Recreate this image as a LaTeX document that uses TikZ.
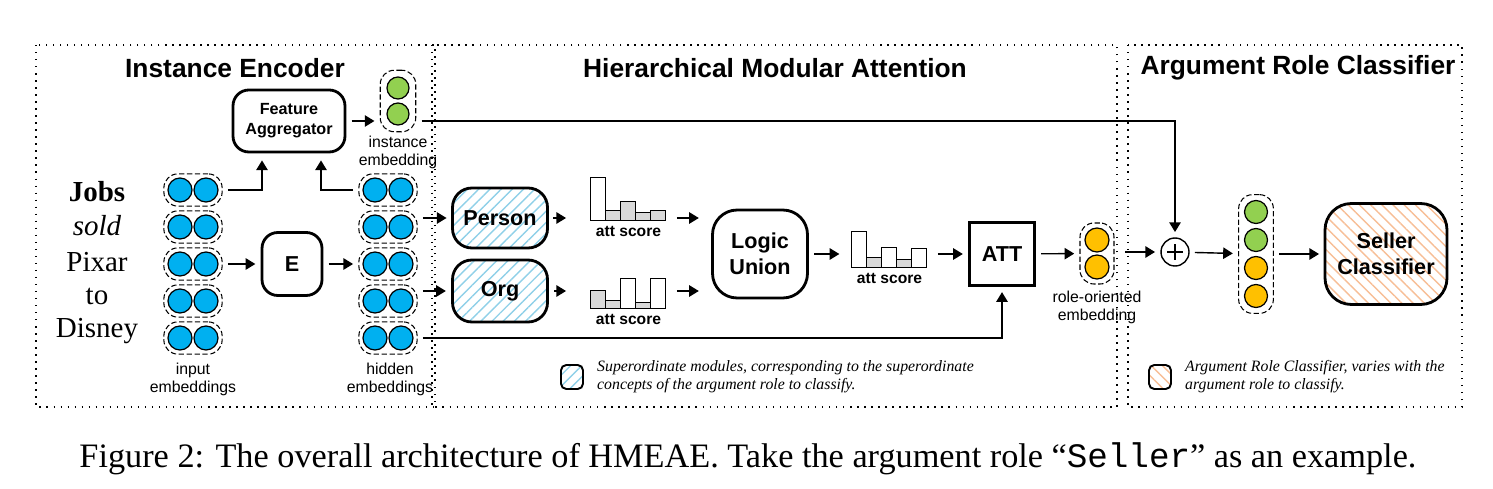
\documentclass[tikz,border=0pt]{standalone}
\usepackage{fontspec}
\setmainfont{Liberation Sans}
\newfontfamily\timesrm{Liberation Serif}
\setmonofont{Liberation Mono}
\usetikzlibrary{arrows.meta,positioning,calc,fit,patterns.meta}

\definecolor{embblue}{HTML}{00B0F0}
\definecolor{embgreen}{HTML}{92D050}
\definecolor{embyellow}{HTML}{FFC000}
\definecolor{barfill}{HTML}{D9D9D9}
\definecolor{hatchblue}{HTML}{8FD0E8}
\definecolor{hatchorange}{HTML}{F7BE96}

\tikzset{
  region/.style={line width=0.8pt, dash pattern=on 0.8pt off 3.2pt},
  title/.style={font=\fontsize{15}{18}\selectfont\bfseries},
  module/.style={draw, line width=1.6pt, rounded corners=9pt, align=center,
    font=\fontsize{12.3}{14.5}\selectfont\bfseries},
  bluehatch/.style={pattern={Lines[angle=45, distance=4.5pt, line width=0.8pt]}, pattern color=hatchblue},
  orangehatch/.style={pattern={Lines[angle=-45, distance=4.5pt, line width=0.8pt]}, pattern color=hatchorange},
  emb/.style={circle, draw, line width=0.7pt, minimum size=0.48cm, inner sep=0pt},
  pairbox/.style={draw, line width=0.6pt, dash pattern=on 3pt off 1.5pt,
    rounded corners=8pt, inner sep=2pt},
  arr/.style={-{Triangle[length=5.5pt,width=6.5pt]}, line width=0.8pt,
    shorten <=3pt, shorten >=3pt},
  lbl/.style={font=\fontsize{9}{10.2}\selectfont, align=center},
  score/.style={font=\fontsize{8.9}{10}\selectfont\bfseries},
  chart/.style={minimum width=1.5cm, inner sep=0pt},
  word/.style={font=\fontsize{16.5}{19}\selectfont\timesrm},
  note/.style={font=\fontsize{9}{10.2}\selectfont\timesrm\itshape, align=left, anchor=west},
}

\begin{document}
\begin{tikzpicture}[x=0.02cm, y=-0.02cm]
  \useasboundingbox (0,0) rectangle (1493,489);

  % the three parts
  \draw[region] (36,45) rectangle (435,407);
  \draw[region] (432,45) rectangle (1117,407);
  \draw[region] (1128,45) rectangle (1462,407);
  \node[title] (t1) at (235,68) {Instance Encoder};
  \node[title] (t2) at (775,68) {Hierarchical Modular Attention};
  \node[title] (t3) at (1298,68) {Argument Role Classifier};

  % sentence
  \node[word, font=\fontsize{16.5}{19}\selectfont\timesrm\bfseries] (w1) at (97,192) {Jobs};
  \node[word, font=\fontsize{16.5}{19}\selectfont\timesrm\itshape] (w2) at (97,226) {sold};
  \node[word] (w3) at (97,262) {Pixar};
  \node[word] (w4) at (97,296) {to};
  \node[word] (w5) at (97,331) {Disney};

  % input and hidden embeddings
  \foreach \r/\y in {1/190,2/227,3/264,4/301,5/338} {
    \node[emb, fill=embblue] (in\r a) at (180,\y) {};
    \node[emb, fill=embblue] (in\r b) at (206,\y) {};
    \node[pairbox, fit=(in\r a)(in\r b)] (in\r) {};
    \node[emb, fill=embblue] (hid\r a) at (375,\y) {};
    \node[emb, fill=embblue] (hid\r b) at (401,\y) {};
    \node[pairbox, fit=(hid\r a)(hid\r b)] (hid\r) {};
  }
  \node[lbl] (inlbl) at (193,379) {input\\embeddings};
  \node[lbl] (hidlbl) at (390,379) {hidden\\embeddings};

  \node[module, minimum width=2.24cm, minimum height=1.24cm,
    font=\fontsize{9.2}{11.5}\selectfont\bfseries] (fa) at (289,121) {Feature\\Aggregator};
  \node[module, minimum width=1.2cm, minimum height=1.26cm] (enc) at (292,264) {E};

  % instance embedding
  \node[emb, fill=embgreen, minimum size=0.44cm] (ie1) at (398,88) {};
  \node[emb, fill=embgreen, minimum size=0.44cm] (ie2) at (398,114) {};
  \node[pairbox, inner sep=3.5pt, fit=(ie1)(ie2)] (inst) {};
  \node[lbl] (instlbl) at (398,152) {instance\\embedding};

  % superordinate modules
  \node[module, bluehatch, minimum width=1.9cm, minimum height=1.2cm,
    rounded corners=11pt] (person) at (500,218) {Person};
  \node[module, bluehatch, minimum width=1.9cm, minimum height=1.24cm,
    rounded corners=11pt] (org) at (500,291) {Org};

  % attention scores
  \node[chart, minimum height=0.86cm] (s1) at (628.5,198.5) {};
  \node[chart, minimum height=0.6cm] (s2) at (628.5,293) {};
  \node[chart, minimum height=0.72cm] (s3) at (889.5,249) {};
  \foreach \h/\c [count=\i from 0] in {43/white,10/barfill,19/barfill,8/barfill,10/barfill}
    \draw[line width=0.7pt, fill=\c] ($(s1.south west)+(15*\i,0)$) rectangle ++(15,-\h);
  \foreach \h/\c [count=\i from 0] in {18/barfill,8/barfill,30/white,6/barfill,30/white}
    \draw[line width=0.7pt, fill=\c] ($(s2.south west)+(15*\i,0)$) rectangle ++(15,-\h);
  \foreach \h/\c [count=\i from 0] in {36/white,10/barfill,20/white,8/barfill,19/white}
    \draw[line width=0.7pt, fill=\c] ($(s3.south west)+(15*\i,0)$) rectangle ++(15,-\h);
  \node[score, below=0pt of s1] (s1lbl) {att score};
  \node[score, below=0pt of s2] (s2lbl) {att score};
  \node[score, below=0pt of s3] (s3lbl) {att score};

  \node[module, minimum width=1.9cm, minimum height=1.76cm, rounded corners=14pt] (lu) at (760,254) {Logic\\Union};
  \node[draw, line width=1.6pt, minimum width=1.3cm, minimum height=1.26cm,
    font=\fontsize{12.3}{14}\selectfont\bfseries] (att) at (1002,254) {ATT};

  % role-oriented embedding
  \node[emb, fill=embyellow] (re1) at (1097,240) {};
  \node[emb, fill=embyellow] (re2) at (1097,267) {};
  \node[pairbox, inner sep=2.5pt, fit=(re1)(re2)] (role) {};
  \node[lbl] (rolelbl) at (1097,307) {role-oriented\\embedding};

  % classifier part
  \node[circle, draw, line width=0.8pt, minimum size=0.56cm, inner sep=0pt,
    path picture={\draw[line width=0.9pt]
      ([yshift=-3.5pt]path picture bounding box.north) -- ([yshift=3.5pt]path picture bounding box.south)
      ([xshift=3.5pt]path picture bounding box.west) -- ([xshift=-3.5pt]path picture bounding box.east);}]
    (plus) at (1175,252) {};
  \node[emb, fill=embgreen, minimum size=0.46cm] (c1) at (1256,212) {};
  \node[emb, fill=embgreen, minimum size=0.46cm] (c2) at (1256,240) {};
  \node[emb, fill=embyellow, minimum size=0.46cm] (c3) at (1256,268) {};
  \node[emb, fill=embyellow, minimum size=0.46cm] (c4) at (1256,296) {};
  \node[pairbox, inner sep=3pt, fit=(c1)(c4)] (col) {};
  \node[module, orangehatch, minimum width=2.44cm, minimum height=2.02cm,
    rounded corners=15pt] (seller) at (1386,254) {Seller\\Classifier};

  % connectors
  \draw[arr, shorten >=4pt] (in1.east) -| ($(fa.south)+(-27,0)$);
  \draw[arr, shorten >=4pt] (hid1.west) -| ($(fa.south)+(32,0)$);
  \draw[arr] (in3) -- (enc);
  \draw[arr] (enc) -- (hid3);
  \draw[arr] (fa) -- (fa -| inst.west);
  \draw[arr] (inst.east |- fa) -| (plus.north);
  \draw[arr] (hid2.east |- person) -- (person);
  \draw[arr] (hid4.east |- org) -- (org);
  \draw[arr, shorten >=14pt] (person) -- (person -| s1.west);
  \draw[arr, shorten >=14pt] (org) -- (org -| s2.west);
  \draw[arr, shorten <=6pt, shorten >=7pt] (person -| s1.east) -- (person -| lu.west);
  \draw[arr, shorten <=6pt, shorten >=7pt] (org -| s2.east) -- (org -| lu.west);
  \draw[arr, shorten >=7pt] (lu) -- (lu -| s3.west);
  \draw[arr, shorten <=6pt] (lu -| s3.east) -- (att);
  \draw[arr] (att) -- (role);
  \draw[arr, shorten <=6pt] (role.east |- plus) -- (plus);
  \draw[arr] (plus) -- (col);
  \draw[arr] (col) -- (seller);
  \draw[arr] (hid5.east) -| (att.south);

  % legends
  \node[draw, line width=1.1pt, rounded corners=3pt, bluehatch,
    minimum width=0.44cm, minimum height=0.48cm] (key1) at (572,377) {};
  \node[note, right=4pt of key1] (key1txt) {Superordinate modules, corresponding to the superordinate\\concepts of the argument role to classify.};
  \node[draw, line width=1.1pt, rounded corners=3pt, orangehatch,
    minimum width=0.44cm, minimum height=0.48cm] (key2) at (1160,377) {};
  \node[note, right=4pt of key2] (key2txt) {Argument Role Classifier, varies with the\\argument role to classify.};

  % caption
  \node[font=\fontsize{19.5}{22}\selectfont\timesrm] (cap) at (748,459)
    {Figure 2: The overall architecture of HMEAE. Take the argument role “\texttt{Seller}” as an example.};
\end{tikzpicture}
\end{document}
